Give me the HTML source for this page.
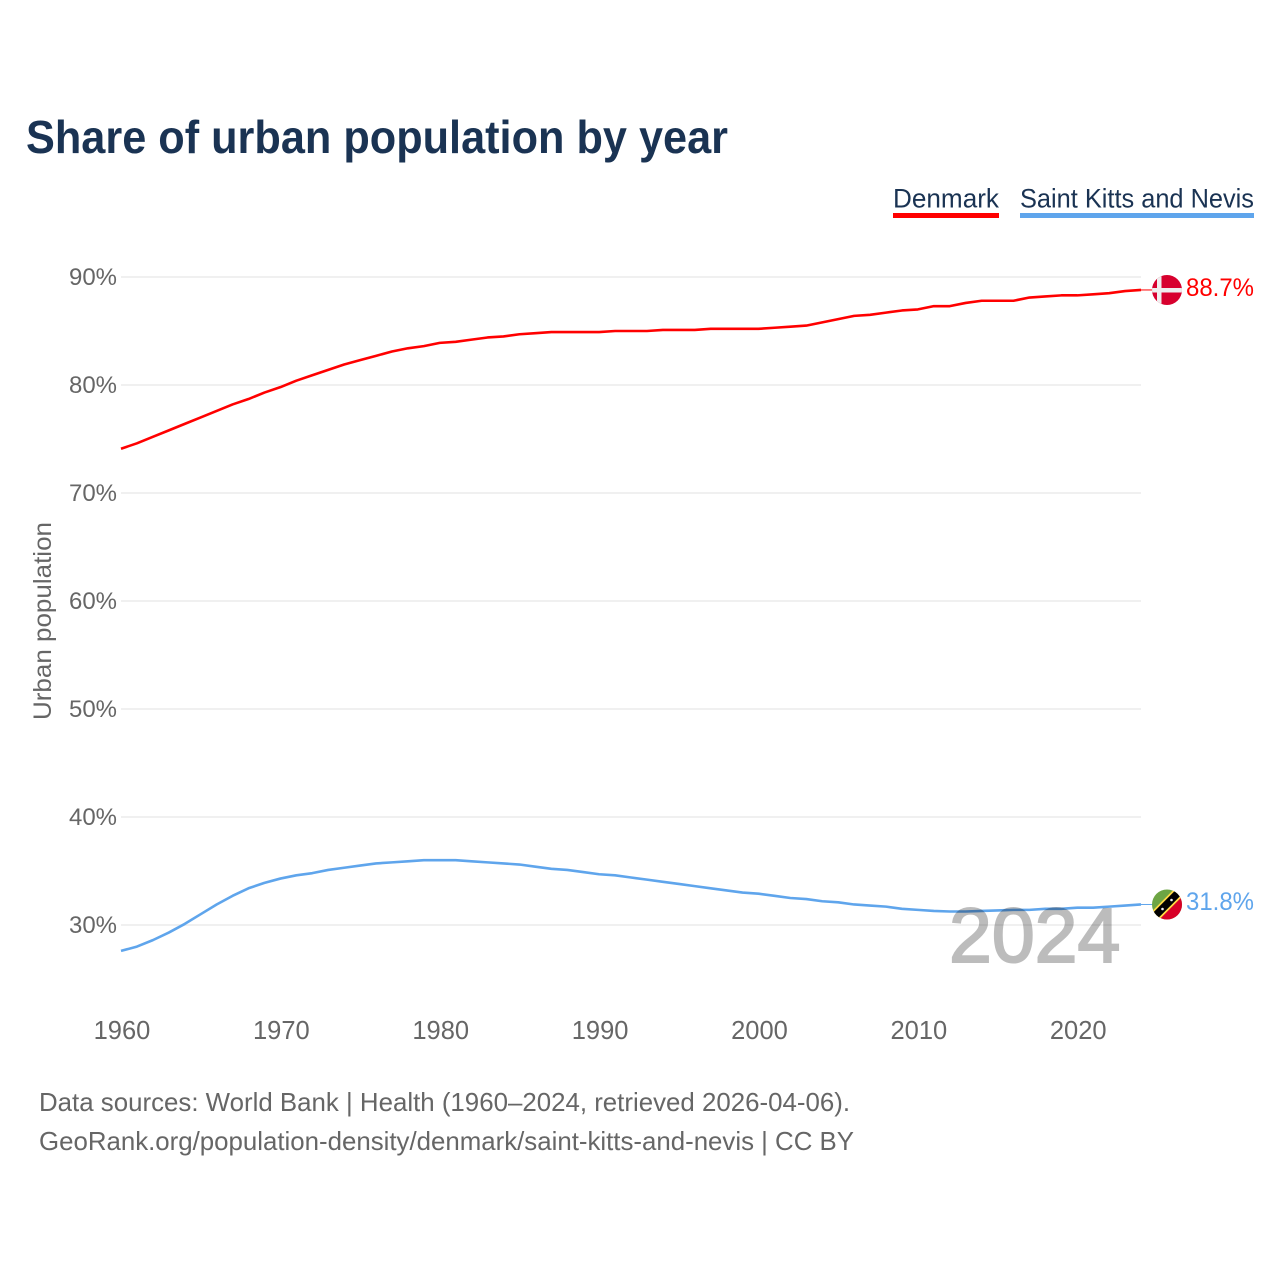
<!DOCTYPE html>
<html lang="en">
<head>
<meta charset="utf-8">
<title>Share of urban population by year</title>
<style>
html,body{margin:0;padding:0;background:#fff;}
svg{display:block;font-family:"Liberation Sans",sans-serif;}
</style>
</head>
<body>
<svg id="chart" width="1280" height="1280" viewBox="0 0 1280 1280" xmlns="http://www.w3.org/2000/svg">
  <defs>
    <clipPath id="flag-clip-dk"><circle id="clip-dk" cx="1167" cy="290" r="15"></circle></clipPath>
    <clipPath id="flag-clip-kn"><circle id="clip-kn" cx="1167" cy="904.5" r="15"></circle></clipPath>
  </defs>
  <rect width="1280" height="1280" fill="#fff"></rect>
  <text x="26" y="153" font-size="46" font-weight="700" fill="#1a3353" textLength="702" lengthAdjust="spacingAndGlyphs">Share of urban population by year</text>

  <g>
    <g>
      <text x="893" y="207.5" font-size="27" fill="#1a3353" textLength="106" lengthAdjust="spacingAndGlyphs">Denmark</text>
      <rect x="893" y="213" width="106" height="5" fill="#ff0000"></rect>
    </g>
    <g>
      <text x="1020" y="207.5" font-size="27" fill="#1a3353" textLength="234" lengthAdjust="spacingAndGlyphs">Saint Kitts and Nevis</text>
      <rect x="1020" y="213" width="234" height="5" fill="#5fa5ec"></rect>
    </g>
  </g>

  <g id="grid"></g>
  <g id="y-labels"></g>
  <g id="x-labels"></g>

  <text transform="translate(51,720) rotate(-90)" font-size="25" fill="#666" textLength="198" lengthAdjust="spacingAndGlyphs">Urban population</text>

  <g id="series"></g>

  <text x="949" y="962" font-size="77" fill="#000" stroke="#000" stroke-width="2" opacity="0.26">2024</text>

  <g clip-path="url(#flag-clip-dk)">
    <rect x="1150" y="273" width="34" height="34" fill="#d7002e"></rect>
    <rect x="1157" y="273" width="4.5" height="34" fill="#eeeeee"></rect>
    <rect x="1150" y="288" width="34" height="4.5" fill="#eeeeee"></rect>
  </g>
  <g clip-path="url(#flag-clip-kn)">
    <rect x="1150" y="887" width="34" height="36" fill="#6da544"></rect>
    <polygon points="1184,892 1184,923 1152,923" fill="#d80027"></polygon>
    <line x1="1149" y1="922" x2="1185" y2="886" stroke="#ffda44" stroke-width="11"></line>
    <line x1="1149" y1="922" x2="1185" y2="886" stroke="#000000" stroke-width="7.5"></line>
    <circle cx="1162.5" cy="909" r="1.3" fill="#f0f0f0"></circle>
    <circle cx="1171.5" cy="900" r="1.3" fill="#f0f0f0"></circle>
  </g>

  <text id="value-denmark" x="1186" y="296" font-size="25" fill="#ff0000" textLength="68" lengthAdjust="spacingAndGlyphs"></text>
  <text id="value-kn" x="1186" y="910" font-size="25" fill="#5fa5ec" textLength="68" lengthAdjust="spacingAndGlyphs"></text>

  <text x="39" y="1111" font-size="26" fill="#666" textLength="811" lengthAdjust="spacingAndGlyphs">Data sources: World Bank | Health (1960–2024, retrieved 2026-04-06).</text>
  <text x="39" y="1150" font-size="26" fill="#666" textLength="815" lengthAdjust="spacingAndGlyphs">GeoRank.org/population-density/denmark/saint-kitts-and-nevis | CC BY</text>
</svg>
<script>
const years = [1960,1961,1962,1963,1964,1965,1966,1967,1968,1969,1970,1971,1972,1973,1974,1975,1976,1977,1978,1979,1980,1981,1982,1983,1984,1985,1986,1987,1988,1989,1990,1991,1992,1993,1994,1995,1996,1997,1998,1999,2000,2001,2002,2003,2004,2005,2006,2007,2008,2009,2010,2011,2012,2013,2014,2015,2016,2017,2018,2019,2020,2021,2022,2023,2024];
const denmarkValues = [74.1,74.6,75.2,75.8,76.4,77.0,77.6,78.2,78.7,79.3,79.8,80.4,80.9,81.4,81.9,82.3,82.7,83.1,83.4,83.6,83.9,84.0,84.2,84.4,84.5,84.7,84.8,84.9,84.9,84.9,84.9,85.0,85.0,85.0,85.1,85.1,85.1,85.2,85.2,85.2,85.2,85.3,85.4,85.5,85.8,86.1,86.4,86.5,86.7,86.9,87.0,87.3,87.3,87.6,87.8,87.8,87.8,88.1,88.2,88.3,88.3,88.4,88.5,88.7,88.8];
const kittsValues = [27.6,28.0,28.6,29.3,30.1,31.0,31.9,32.7,33.4,33.9,34.3,34.6,34.8,35.1,35.3,35.5,35.7,35.8,35.9,36.0,36.0,36.0,35.9,35.8,35.7,35.6,35.4,35.2,35.1,34.9,34.7,34.6,34.4,34.2,34.0,33.8,33.6,33.4,33.2,33.0,32.9,32.7,32.5,32.4,32.2,32.1,31.9,31.8,31.7,31.5,31.4,31.3,31.25,31.25,31.3,31.35,31.4,31.4,31.5,31.5,31.6,31.6,31.7,31.8,31.9];
const yTickValues = [30,40,50,60,70,80,90];
const xTickValues = [1960,1970,1980,1990,2000,2010,2020];
const denmarkLabel = "88.7%";
const kittsLabel = "31.8%";

const NS = "http://www.w3.org/2000/svg";
function xScale(year){ return 121 + (year - 1960) * (1141 - 121) / 64; }
function yScale(value){ return 277 + (90 - value) * 10.8; }
function make(tag, attrs, parent){
  const el = document.createElementNS(NS, tag);
  for (const k in attrs) el.setAttribute(k, attrs[k]);
  parent.appendChild(el);
  return el;
}

const gridGroup = document.getElementById('grid');
const yLabelGroup = document.getElementById('y-labels');
const xLabelGroup = document.getElementById('x-labels');
const seriesGroup = document.getElementById('series');

yTickValues.forEach(function(v){
  const line = make('line', {x1: xScale(1960), x2: xScale(2024), y1: yScale(v), y2: yScale(v), stroke: '#ececec', 'stroke-width': 1.6}, gridGroup);
  
  
  const label = make('text', {x: 69, y: yScale(v) + 8, 'font-size': 24.5, fill: '#666', textLength: 48, lengthAdjust: 'spacingAndGlyphs'}, yLabelGroup);
  
  
  label.textContent = v + '%';
});

xTickValues.forEach(function(y){
  const label = make('text', {x: xScale(y) + 1, y: 1039, 'font-size': 25.5, fill: '#666', 'text-anchor': 'middle'}, xLabelGroup);
  
  
  label.textContent = y;
});

function linePath(values){
  return values.map(function(v, i){
    return (i ? 'L' : 'M') + xScale(years[i]).toFixed(2) + ' ' + yScale(v).toFixed(2);
  }).join(' ');
}

const lastIndex = years.length - 1;

const denmarkLine = make('path', {d: linePath(denmarkValues), fill: 'none', stroke: '#ff0000', 'stroke-width': 2.6, 'stroke-linejoin': 'round'}, seriesGroup);



const kittsLine = make('path', {d: linePath(kittsValues), fill: 'none', stroke: '#5fa5ec', 'stroke-width': 2.6, 'stroke-linejoin': 'round'}, seriesGroup);



const denmarkConnector = make('line', {x1: xScale(years[lastIndex]), x2: 1153, y1: yScale(denmarkValues[lastIndex]), y2: yScale(denmarkValues[lastIndex]), stroke: '#ff0000', 'stroke-width': 1}, seriesGroup);



const kittsConnector = make('line', {x1: xScale(years[lastIndex]), x2: 1153, y1: yScale(kittsValues[lastIndex]), y2: yScale(kittsValues[lastIndex]), stroke: '#5fa5ec', 'stroke-width': 1}, seriesGroup);



document.getElementById('value-denmark').textContent = denmarkLabel;
document.getElementById('value-kn').textContent = kittsLabel;
</script>
</body>
</html>
